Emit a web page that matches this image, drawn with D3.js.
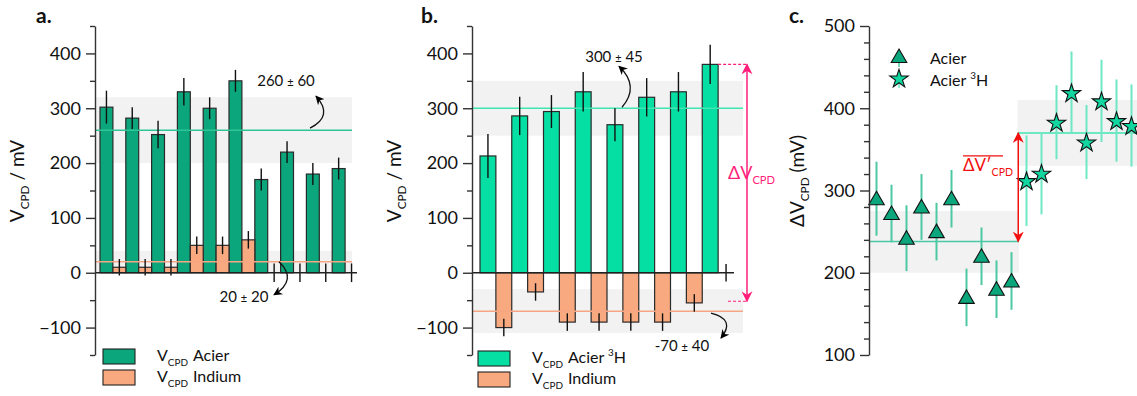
<!DOCTYPE html>
<html><head><meta charset="utf-8">
<script src="https://cdn.jsdelivr.net/npm/d3@7"></script>
<style>
body{margin:0;background:#fff;}
svg{display:block;font-family:Lato,"Open Sans",sans-serif;}
</style></head><body>
<svg id="chart" width="1137" height="396"></svg>
<script>
// ---------- DATA ----------
// panel a
const aCategories = [1,2,3,4,5,6,7,8,9,10];
const aAcier      = [302,282,252,330,300,350,170,220,180,190];
const aAcierErr   = [30,20,25,25,20,20,20,20,20,20];
const aIndium     = [10,10,10,50,50,60,0,0,0,0];
const aIndiumErr  = [15,15,15,16,16,16,17,17,17,17];
const aMeans      = [{mean:260, lo:200, hi:320, key:"acier"}, {mean:20, lo:0, hi:40, key:"indium"}];
// panel b
const bCategories = [1,2,3,4,5,6,7,8];
const bAcier3H    = [213,286,294,330,270,320,330,380];
const bAcier3HErr = [40,35,30,36,30,35,36,36];
const bIndium     = [-100,-35,-90,-90,-90,-90,-55,0];
const bIndiumErr  = [16,16,16,16,16,16,16,16];
const bMeans      = [{mean:300, lo:250, hi:350, key:"acier"}, {mean:-70, lo:-110, hi:-30, key:"indium"}];
const bDelta      = [380, -52];
// panel c
const cAcier      = [290,272,242,280,250,290,170,220,180,190];
const cAcierErr   = [45,35,40,40,35,35,35,35,35,35];
const cAcier3H    = [312,321,383,419,359,409,385,379];
const cAcier3HErr = [55,50,45,50,45,50,50,50];
const cMeans      = [{mean:238, lo:200, hi:275}, {mean:370, lo:330, hi:410}];
// ticks
const abTicks = [-100,0,100,200,300,400];
const cTicks  = [100,200,300,400,500];

// ---------- STYLE ----------
const C = {
  acier:"#0ba67b", acier3H:"#06dfa3", indium:"#f8a97f",
  band:"#f2f2f2", lineA:"#2ec596", lineB:"#3fe6b2", lineIn:"#f7a684",
  errC1:"#4cc8a3", errC2:"#6fe7c5", pink:"#ff1f7a", red:"#f20f0f", axis:"#333"
};
const svg = d3.select("#chart");
const defs = svg.append("defs");
function marker(id, color, size){
  defs.append("marker").attr("id",id).attr("viewBox","0 0 10 10").attr("refX",9).attr("refY",5)
    .attr("markerWidth",size).attr("markerHeight",size).attr("orient","auto-start-reverse")
    .attr("markerUnits","userSpaceOnUse")
    .append("path").attr("d","M0,0 L10,5 L0,10 L3,5 Z").attr("fill",color);
}
marker("arrK","#000",9); marker("arrP",C.pink,11); marker("arrR",C.red,11);

const fmt = d => d < 0 ? "\u2212" + Math.abs(d) : d;

function yAxis(g, y, ticks, minorStep){
  const dom = y.domain();
  const minor = d3.range(dom[0], dom[1]+0.001, minorStep).filter(v => !ticks.includes(v));
  g.append("g").call(d3.axisLeft(y).tickValues(minor).tickSize(5).tickSizeOuter(0).tickFormat(""))
    .call(s=>s.select(".domain").remove());
  g.append("g").call(d3.axisLeft(y).tickValues(ticks).tickSize(9).tickSizeOuter(0).tickPadding(5).tickFormat(fmt))
    .call(s=>s.selectAll("text").attr("font-size",18).attr("fill","#111").attr("font-family","Lato"));
  g.selectAll("line,path").attr("stroke",C.axis).attr("stroke-width",1.4);
}

function subText(sel, parts){
  // parts: [text, type, dx] type: n normal, s sub, p sup
  let shift = 0;
  parts.forEach(([t,type,dx])=>{
    const ts = sel.append("tspan").text(t);
    let target = type==="s" ? 5 : type==="p" ? -7 : 0;
    ts.attr("dy", target - shift); shift = target;
    if(dx) ts.attr("dx", dx);
    if(type!=="n") ts.attr("font-size","0.62em");
  });
}

function panelLabel(x, y, t){
  svg.append("text").attr("x",x).attr("y",y).text(t).attr("font-size",21).attr("font-weight","bold").attr("fill","#111");
}

function barPanel(opt){
  const {axisX, xRange, xEnd, bandEnd, cats, top, topErr, bot, botErr, means, topColor, lineTop} = opt;
  const y = d3.scaleLinear([-150,450],[355,26]);
  const x = d3.scaleBand(cats, xRange).padding(0);
  const bw = x.bandwidth()/2;
  const g = svg.append("g");
  g.selectAll(".band").data(means).join("rect")
    .attr("x",axisX).attr("width",bandEnd-axisX)
    .attr("y",d=>y(d.hi)).attr("height",d=>y(d.lo)-y(d.hi)).attr("fill",C.band);
  const rows = cats.map((c,i)=>({c, t:top[i], te:topErr[i], b:bot[i], be:botErr[i]}));
  g.selectAll(".bt").data(rows).join("rect")
    .attr("x",d=>x(d.c)).attr("width",bw)
    .attr("y",d=>y(Math.max(0,d.t))).attr("height",d=>Math.abs(y(d.t)-y(0)))
    .attr("fill",topColor).attr("stroke","#2a2a2a").attr("stroke-width",1.2);
  g.selectAll(".bb").data(rows.filter(d=>d.b!==0)).join("rect")
    .attr("x",d=>x(d.c)+bw).attr("width",bw)
    .attr("y",d=>y(Math.max(0,d.b))).attr("height",d=>Math.abs(y(d.b)-y(0)))
    .attr("fill",C.indium).attr("stroke","#2a2a2a").attr("stroke-width",1.2);
  g.selectAll(".ml").data(means).join("line")
    .attr("x1",axisX).attr("x2",bandEnd).attr("y1",d=>y(d.mean)).attr("y2",d=>y(d.mean))
    .attr("stroke",d=>d.key==="acier"?lineTop:C.lineIn).attr("stroke-width",1.5);
  g.selectAll(".et").data(rows).join("line")
    .attr("x1",d=>x(d.c)+bw/2).attr("x2",d=>x(d.c)+bw/2)
    .attr("y1",d=>y(d.t+d.te)).attr("y2",d=>y(d.t-d.te))
    .attr("stroke","#111").attr("stroke-width",1.4);
  g.selectAll(".eb").data(rows).join("line")
    .attr("x1",d=>x(d.c)+1.5*bw).attr("x2",d=>x(d.c)+1.5*bw)
    .attr("y1",d=>y(d.b+d.be)).attr("y2",d=>y(d.b-d.be))
    .attr("stroke","#111").attr("stroke-width",1.4);
  g.append("line").attr("x1",axisX).attr("x2",xEnd).attr("y1",y(0)).attr("y2",y(0))
    .attr("stroke","#222").attr("stroke-width",1.5);
  const ag = g.append("g").attr("transform",`translate(${axisX},0)`);
  yAxis(ag, y, abTicks, 50);
  return {g, x, y, bw};
}

// ---------- PANEL A ----------
const pa = barPanel({axisX:95, xRange:[100,358], xEnd:357, bandEnd:352, cats:aCategories,
  top:aAcier, topErr:aAcierErr, bot:aIndium, botErr:aIndiumErr, means:aMeans, topColor:C.acier, lineTop:C.lineA});
panelLabel(36,23,"a.");
{
  const t = svg.append("text").attr("transform","translate(24,181) rotate(-90)").attr("text-anchor","middle")
    .attr("font-size",19).attr("fill","#111");
  subText(t,[["V","n"],["CPD","s"],["/ mV","n",5]]);
  const y = pa.y;
  const a1 = svg.append("text").attr("x",286).attr("y",y(260)-44).attr("text-anchor","middle").attr("font-size",15).attr("fill","#111");
  a1.append("tspan").text("260 "); a1.append("tspan").text("±").attr("font-size",11); a1.append("tspan").text(" 60");
  svg.append("path").attr("d",`M310,${y(260)-2} Q334,${y(260)-14} 316,${y(260)-34}`)
    .attr("fill","none").attr("stroke","#111").attr("stroke-width",1.3).attr("marker-end","url(#arrK)");
  const a2 = svg.append("text").attr("x",244).attr("y",y(20)+40).attr("text-anchor","middle").attr("font-size",15).attr("fill","#111");
  a2.append("tspan").text("20 "); a2.append("tspan").text("±").attr("font-size",11); a2.append("tspan").text(" 20");
  svg.append("path").attr("d",`M279,${y(20)} Q298,${y(20)+18} 274,${y(20)+33}`)
    .attr("fill","none").attr("stroke","#111").attr("stroke-width",1.3).attr("marker-end","url(#arrK)");
  const lg = svg.append("g");
  [[C.acier,"Acier",349],[C.indium,"Indium",370]].forEach(([col,lab,yy])=>{
    lg.append("rect").attr("x",103).attr("y",yy).attr("width",32).attr("height",15).attr("fill",col).attr("stroke","#222").attr("stroke-width",1.1);
    const t = lg.append("text").attr("x",157).attr("y",yy+12).attr("font-size",16).attr("fill","#111");
    subText(t,[["V","n"],["CPD","s"],[lab,"n",5]]);
  });
}

// ---------- PANEL B ----------
const pb = barPanel({axisX:472, xRange:[480,734], xEnd:734, bandEnd:743, cats:bCategories,
  top:bAcier3H, topErr:bAcier3HErr, bot:bIndium, botErr:bIndiumErr, means:bMeans, topColor:C.acier3H, lineTop:C.lineB});
panelLabel(421,23,"b.");
{
  const y = pb.y;
  const t = svg.append("text").attr("transform","translate(401,181) rotate(-90)").attr("text-anchor","middle")
    .attr("font-size",19).attr("fill","#111");
  subText(t,[["V","n"],["CPD","s"],["/ mV","n",5]]);
  const a1 = svg.append("text").attr("x",614).attr("y",y(300)-46).attr("text-anchor","middle").attr("font-size",15).attr("fill","#111");
  a1.append("tspan").text("300 "); a1.append("tspan").text("±").attr("font-size",11); a1.append("tspan").text(" 45");
  svg.append("path").attr("d",`M622,${y(300)-1} Q640,${y(300)-22} 619,${y(300)-42}`)
    .attr("fill","none").attr("stroke","#111").attr("stroke-width",1.3).attr("marker-end","url(#arrK)");
  const a2 = svg.append("text").attr("x",682).attr("y",y(-70)+40).attr("text-anchor","middle").attr("font-size",15).attr("fill","#111");
  a2.append("tspan").text("-70 "); a2.append("tspan").text("±").attr("font-size",11); a2.append("tspan").text(" 40");
  svg.append("path").attr("d",`M711,${y(-70)+2} Q736,${y(-70)+8} 721,${y(-70)+27}`)
    .attr("fill","none").attr("stroke","#111").attr("stroke-width",1.3).attr("marker-end","url(#arrK)");
  const xs = pb.x(bCategories[7]) + pb.bw;
  svg.append("line").attr("x1",xs).attr("x2",747).attr("y1",y(bDelta[0])).attr("y2",y(bDelta[0]))
    .attr("stroke",C.pink).attr("stroke-width",1.2).attr("stroke-dasharray","3,2");
  svg.append("line").attr("x1",728).attr("x2",747).attr("y1",y(bDelta[1])).attr("y2",y(bDelta[1]))
    .attr("stroke",C.pink).attr("stroke-width",1.2).attr("stroke-dasharray","3,2");
  svg.append("line").attr("x1",747).attr("x2",747).attr("y1",y(bDelta[0])).attr("y2",y(bDelta[1]))
    .attr("stroke",C.pink).attr("stroke-width",1.5).attr("marker-start","url(#arrP)").attr("marker-end","url(#arrP)");
  const dt = svg.append("text").attr("x",728).attr("y",179).attr("font-size",18).attr("fill",C.pink);
  subText(dt,[["\u0394V","n"],["CPD","s"]]);
  const lg = svg.append("g");
  [[C.acier3H,[["Acier ","n",5],["3","p"],["H","n"]],351],[C.indium,[["Indium","n",5]],372]].forEach(([col,lab,yy])=>{
    lg.append("rect").attr("x",478).attr("y",yy).attr("width",32).attr("height",15).attr("fill",col).attr("stroke","#222").attr("stroke-width",1.1);
    const t = lg.append("text").attr("x",532).attr("y",yy+12).attr("font-size",16).attr("fill","#111");
    subText(t,[["V","n"],["CPD","s"]].concat(lab));
  });
}

// ---------- PANEL C ----------
{
  const y = d3.scaleLinear([100,500],[355,26]);
  const x = d3.scaleLinear([-0.5,17.5],[869,1139]);
  const g = svg.append("g");
  g.append("rect").attr("x",x(-0.5)).attr("width",x(9.5)-x(-0.5)).attr("y",y(cMeans[0].hi)).attr("height",y(cMeans[0].lo)-y(cMeans[0].hi)).attr("fill",C.band);
  g.append("rect").attr("x",x(9.4)).attr("width",x(17.5)-x(9.4)).attr("y",y(cMeans[1].hi)).attr("height",y(cMeans[1].lo)-y(cMeans[1].hi)).attr("fill",C.band);
  g.append("line").attr("x1",x(-0.5)).attr("x2",x(9.5)).attr("y1",y(cMeans[0].mean)).attr("y2",y(cMeans[0].mean)).attr("stroke",C.errC1).attr("stroke-width",1.6);
  g.append("line").attr("x1",x(9.4)).attr("x2",x(17.5)).attr("y1",y(cMeans[1].mean)).attr("y2",y(cMeans[1].mean)).attr("stroke",C.lineB).attr("stroke-width",1.6);
  const tri = cAcier.map((v,i)=>({i, v, e:cAcierErr[i]}));
  const st = cAcier3H.map((v,i)=>({i:i+10, v, e:cAcier3HErr[i]}));
  g.selectAll(".e1").data(tri).join("line").attr("x1",d=>x(d.i)).attr("x2",d=>x(d.i))
    .attr("y1",d=>y(d.v+d.e)).attr("y2",d=>y(d.v-d.e)).attr("stroke",C.errC1).attr("stroke-width",2);
  g.selectAll(".e2").data(st).join("line").attr("x1",d=>x(d.i)).attr("x2",d=>x(d.i))
    .attr("y1",d=>y(d.v+d.e)).attr("y2",d=>y(d.v-d.e)).attr("stroke",C.errC2).attr("stroke-width",2);
  const triSym = d3.symbol(d3.symbolTriangle, 105), starSym = d3.symbol(d3.symbolStar, 105);
  g.selectAll(".m1").data(tri).join("path").attr("d",triSym)
    .attr("transform",d=>`translate(${x(d.i)},${y(d.v)+1.5})`).attr("fill",C.acier).attr("stroke","#111").attr("stroke-width",1.1);
  g.selectAll(".m2").data(st).join("path").attr("d",starSym)
    .attr("transform",d=>`translate(${x(d.i)},${y(d.v)+1})`).attr("fill","#12d6a0").attr("stroke","#111").attr("stroke-width",1.1);
  g.append("line").attr("x1",x(9.45)).attr("x2",x(9.45)).attr("y1",y(cMeans[1].mean)).attr("y2",y(cMeans[0].mean))
    .attr("stroke",C.red).attr("stroke-width",1.5).attr("marker-start","url(#arrR)").attr("marker-end","url(#arrR)");
  const dt = svg.append("text").attr("x",963).attr("y",y(cMeans[1].mean)+38).attr("font-size",17).attr("fill",C.red);
  subText(dt,[["\u0394V\u2032","n"],["CPD","s"]]);
  svg.append("line").attr("x1",963).attr("x2",1003).attr("y1",y(cMeans[1].mean)+23).attr("y2",y(cMeans[1].mean)+23)
    .attr("stroke",C.red).attr("stroke-width",1.3);
  const ag = g.append("g").attr("transform",`translate(${x(-0.5)},0)`);
  yAxis(ag, y, cTicks, 20);
  const t = svg.append("text").attr("transform","translate(804,181) rotate(-90)").attr("text-anchor","middle")
    .attr("font-size",19).attr("fill","#111");
  subText(t,[["\u0394V","n"],["CPD","s"],["(mV)","n",5]]);
  const lg = svg.append("g");
  lg.append("line").attr("x1",899).attr("x2",899).attr("y1",50).attr("y2",67).attr("stroke",C.errC1).attr("stroke-width",1.5);
  lg.append("path").attr("d",triSym).attr("transform","translate(899,58)").attr("fill",C.acier).attr("stroke","#111").attr("stroke-width",1.1);
  lg.append("line").attr("x1",899).attr("x2",899).attr("y1",72).attr("y2",88).attr("stroke",C.errC2).attr("stroke-width",1.5);
  lg.append("path").attr("d",starSym).attr("transform","translate(899,79)").attr("fill","#12d6a0").attr("stroke","#111").attr("stroke-width",1.1);
  lg.append("text").attr("x",930).attr("y",64).attr("font-size",16).attr("fill","#111").text("Acier");
  const t2 = lg.append("text").attr("x",930).attr("y",86).attr("font-size",16).attr("fill","#111");
  subText(t2,[["Acier ","n"],["3","p"],["H","n"]]);
}
panelLabel(789,23,"c.");
</script></body></html>
